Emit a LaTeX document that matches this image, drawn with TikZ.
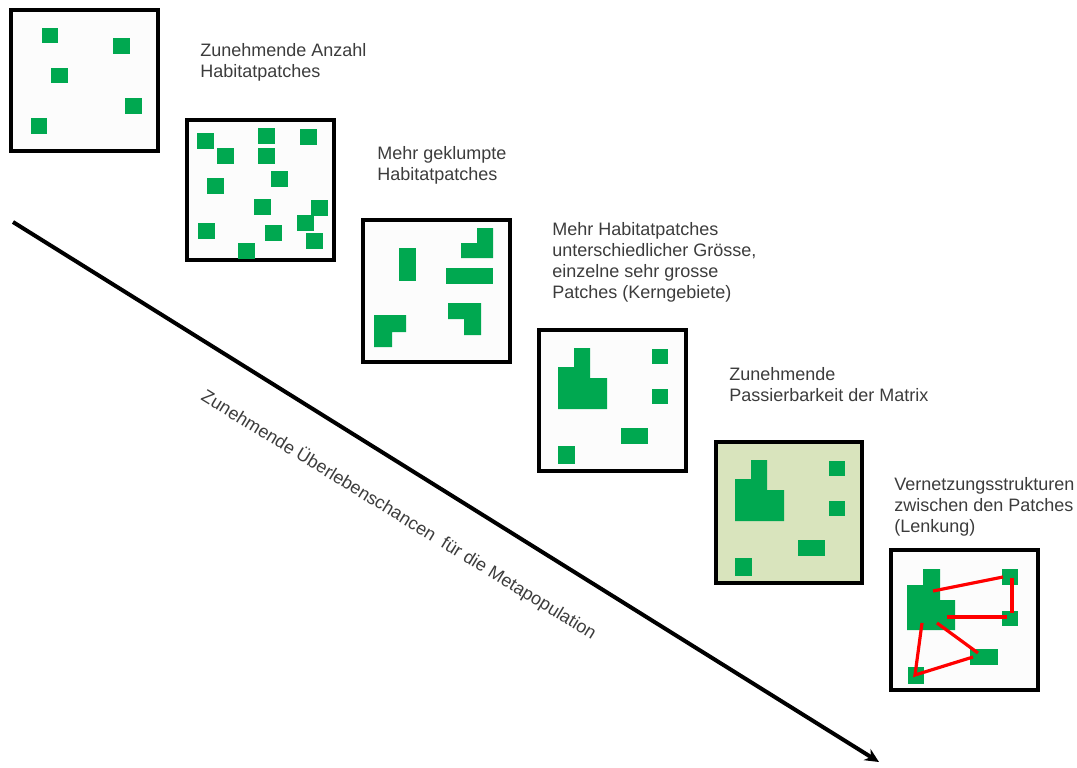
\documentclass[tikz,border=0pt]{standalone}
\usepackage{fontspec}
\setmainfont{Liberation Sans}
\usetikzlibrary{arrows.meta}
\definecolor{patchgreen}{RGB}{0,168,80}
\definecolor{matrixgreen}{RGB}{217,228,189}
\definecolor{labelgray}{RGB}{60,60,60}
\tikzset{
  panel/.style={draw=black, line width=1.8pt, fill=black!1},
  patch/.style={fill=patchgreen},
  link/.style={draw=red, line width=1.6pt},
  caption/.style={anchor=north west, inner sep=0pt, align=left,
    text=labelgray, font=\fontsize{9}{10.5}\selectfont}
}
% clumped patch layout, used in the two matrix panels
\newcommand{\clumppatches}{%
  \fill[patch] (35,18) -- (51,18) -- (51,48) -- (68,48) -- (68,79)
    -- (19,79) -- (19,37) -- (35,37) -- cycle;
  \fill[patch] (113,19) rectangle (129,34);
  \fill[patch] (113,59) rectangle (129,74);
  \fill[patch] (82,98) rectangle (109,114);
  \fill[patch] (19,116) rectangle (36,134);
}
\begin{document}
\begin{tikzpicture}[x=0.5pt, y=-0.5pt]
  \useasboundingbox (0,0) rectangle (1077,767);

  % main arrow
  \coordinate (start) at (13,222);
  \coordinate (end) at (879,762);
  \draw[line width=2pt, -{Stealth[length=7pt, width=6.5pt]}] (start) -- (end);
  \node[text=labelgray, font=\fontsize{9}{10.5}\selectfont, rotate=-31.5]
    (survival) at (399,515) {Zunehmende Überlebenschancen\ \ für die Metapopulation};

  % panel 1
  \draw[panel] (11,10) rectangle (158,151);
  \fill[patch] (42,28) rectangle (58,43);
  \fill[patch] (113,38) rectangle (130,54);
  \fill[patch] (51,68) rectangle (68,83);
  \fill[patch] (125,98) rectangle (142,114);
  \fill[patch] (31,118) rectangle (47,134);
  \node[caption] (count) at (200,43) {Zunehmende Anzahl\\Habitatpatches};

  % panel 2
  \draw[panel] (187,120) rectangle (334,260);
  \foreach \x/\y in {197/133, 258/128, 300/129, 217/148, 258/148, 271/171,
                     207/178, 254/199, 311/200, 297/215, 198/223, 265/225,
                     306/233, 238/243}
    \fill[patch] (\x,\y) rectangle ++(16.5,16);
  \node[caption] (clumped) at (377,146) {Mehr geklumpte\\Habitatpatches};

  % panel 3
  \draw[panel] (363,220) rectangle (510,362);
  \fill[patch] (399,248) rectangle (416,281);
  \fill[patch] (477,228) -- (493,228) -- (493,258) -- (461,258) -- (461,243)
    -- (477,243) -- cycle;
  \fill[patch] (446,268) rectangle (493,284);
  \fill[patch] (374,315) -- (406,315) -- (406,332) -- (392,332) -- (392,347)
    -- (374,347) -- cycle;
  \fill[patch] (448,303) -- (481,303) -- (481,335) -- (464,335) -- (464,319)
    -- (448,319) -- cycle;
  \node[caption] (sizes) at (552,222)
    {Mehr Habitatpatches\\unterschiedlicher Grösse,\\einzelne sehr grosse\\Patches (Kerngebiete)};

  % panel 4
  \draw[panel] (539,330) rectangle (686,471);
  \begin{scope}[shift={(539,330)}]
    \clumppatches
  \end{scope}
  \node[caption] (matrix) at (729,367) {Zunehmende\\Passierbarkeit der Matrix};

  % panel 5
  \draw[panel, fill=matrixgreen] (716,442) rectangle (862,583);
  \begin{scope}[shift={(716,442)}]
    \clumppatches
  \end{scope}
  \node[caption] (network) at (894,477)
    {Vernetzungsstrukturen\\zwischen den Patches\\(Lenkung)};

  % panel 6
  \draw[panel] (891,550) rectangle (1038,690);
  \fill[patch] (923,569) -- (940,569) -- (940,600) -- (955,600) -- (955,630)
    -- (907,630) -- (907,585) -- (923,585) -- cycle;
  \fill[patch] (1002,569) rectangle (1018,585);
  \fill[patch] (1002,611) rectangle (1018,626);
  \fill[patch] (970,649) rectangle (998,665);
  \fill[patch] (908,667) rectangle (924,684);
  \coordinate (hubN) at (933,591);
  \coordinate (hubE) at (947,617);
  \coordinate (hubSE) at (937,623);
  \coordinate (hubSW) at (922,623);
  \coordinate (topR) at (1003,577);
  \coordinate (topRs) at (1012,578);
  \coordinate (midR) at (1012,613);
  \coordinate (midRw) at (1007,617);
  \coordinate (barS) at (978,653);
  \coordinate (barW) at (973,657);
  \coordinate (cornerS) at (915,675);
  \draw[link] (hubN) -- (topR);
  \draw[link] (topRs) -- (midR);
  \draw[link] (hubE) -- (midRw);
  \draw[link] (hubSE) -- (barS);
  \draw[link] (hubSW) -- (cornerS) -- (barW);
\end{tikzpicture}
\end{document}
